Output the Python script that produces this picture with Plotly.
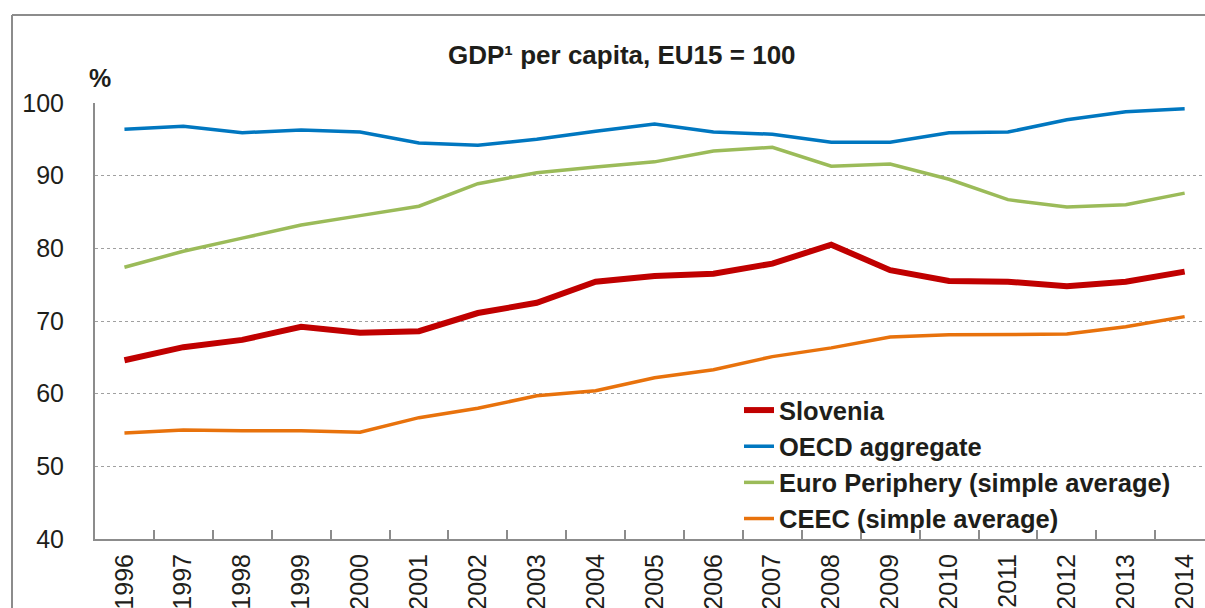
import plotly.graph_objects as go

years = [str(y) for y in range(1996, 2015)]
slovenia = [64.6, 66.4, 67.4, 69.2, 68.4, 68.6, 71.1, 72.5, 75.4, 76.2, 76.5, 77.9, 80.5, 77.0, 75.5, 75.4, 74.8, 75.4, 76.8]
oecd = [96.4, 96.8, 95.9, 96.3, 96.0, 94.5, 94.2, 95.0, 96.1, 97.1, 96.0, 95.7, 94.6, 94.6, 95.9, 96.0, 97.7, 98.8, 99.2]
euro_periphery = [77.4, 79.6, 81.4, 83.2, 84.5, 85.8, 88.9, 90.4, 91.2, 91.9, 93.4, 93.9, 91.3, 91.6, 89.5, 86.7, 85.7, 86.0, 87.6]
ceec = [54.6, 55.0, 54.9, 54.9, 54.7, 56.7, 58.0, 59.7, 60.4, 62.2, 63.3, 65.1, 66.3, 67.8, 68.1, 68.1, 68.2, 69.2, 70.6]

series_names = ["Slovenia", "OECD aggregate", "Euro Periphery (simple average)", "CEEC (simple average)"]
colors = ["#C00000", "#0077C0", "#9BBB59", "#E8720C"]
widths = [6, 3.5, 3.5, 3.5]

FONT = "Liberation Sans Narrow, Arial Narrow, Liberation Sans, Arial, sans-serif"
TXT = "#1e1e1a"

fig = go.Figure()
for name, vals, c, w in zip(series_names, [slovenia, oecd, euro_periphery, ceec], colors, widths):
    fig.add_trace(go.Scatter(x=years, y=vals, name=name, mode="lines",
                             line=dict(color=c, width=w)))

W, H = 1205, 608
L, R, T, B = 95, 0, 103, 69
pw, ph = W - L - R, H - T - B
step = 58.9
xr_end = -0.5 + pw / step

fig.update_layout(
    width=W, height=H,
    margin=dict(l=L, r=R, t=T, b=B, autoexpand=False),
    paper_bgcolor="white", plot_bgcolor="white",
    font=dict(family=FONT, color=TXT),
    showlegend=True,
    legend=dict(x=(739 - L) / pw, y=(539 - 387) / ph, xanchor="left", yanchor="top",
                bgcolor="rgba(0,0,0,0)", font=dict(family=FONT, size=25.5, color=TXT, weight="bold"),
                tracegroupgap=0, itemwidth=30, traceorder="normal"),
    xaxis=dict(type="category", range=[-0.5, xr_end], showgrid=False,
               showline=True, linecolor="#8c8c8c", linewidth=2,
               ticks="inside", ticklen=9, tickcolor="#8c8c8c", tickwidth=2,
               tickson="boundaries", tickangle=-90, ticklabelstandoff=3,
               tickfont=dict(family=FONT, size=25, color=TXT)),
    yaxis=dict(range=[40, 100], tickvals=[40, 50, 60, 70, 80, 90, 100],
               showgrid=True, gridcolor="#a0a0a0", griddash="dot", gridwidth=1,
               showline=True, linecolor="#8c8c8c", linewidth=2,
               ticks="", ticklabelstandoff=24, zeroline=False,
               tickfont=dict(family=FONT, size=25, color=TXT)),
)

# outer frame (top and left edges visible in the reference)
fx0, fy_top = (12 - L) / pw, (539 - 15) / ph
fig.add_shape(type="line", xref="paper", yref="paper",
              x0=fx0, x1=1.0, y0=fy_top, y1=fy_top,
              line=dict(color="#8c8c8c", width=2), layer="below")
fig.add_shape(type="line", xref="paper", yref="paper",
              x0=fx0, x1=fx0, y0=(539 - 640) / ph, y1=fy_top,
              line=dict(color="#8c8c8c", width=2), layer="below")

fig.add_annotation(text="GDP¹ per capita, EU15 = 100", xref="paper", yref="paper",
                   x=(622 - L) / pw, y=(539 - 55) / ph, xanchor="center", yanchor="middle",
                   showarrow=False, font=dict(family=FONT, size=26, color=TXT, weight="bold"))
fig.add_annotation(text="%", xref="paper", yref="paper",
                   x=(87 - L) / pw, y=(539 - 78) / ph, xanchor="left", yanchor="middle",
                   showarrow=False, font=dict(family=FONT, size=25, color=TXT, weight="bold"))

fig.write_html("out.html", config={"displayModeBar": False},
               post_script=("document.body.style.margin='0px';"
                            "document.body.style.overflow='hidden';"
                            "document.documentElement.style.overflow='hidden';"))
